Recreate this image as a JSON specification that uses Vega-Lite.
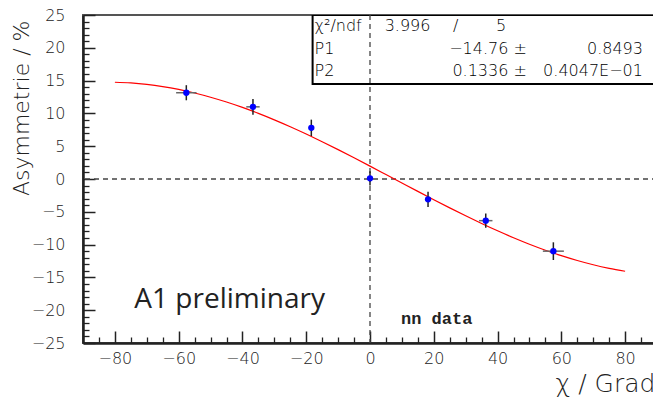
{
  "$schema": "https://vega.github.io/schema/vega-lite/v6.json",
  "autosize": "none",
  "width": 574,
  "height": 328,
  "padding": {"left": 83, "top": 15, "right": 0, "bottom": 58},
  "background": "white",
  "config": {
    "view": {"stroke": "#555", "strokeWidth": 2},
    "font": "DejaVu Sans",
    "axis": {"grid": false}
  },
  "datasets": {
    "points": [
      {"chi": -57.6, "asym": 13.15, "xlo": -60.8, "xhi": -54.4, "ylo": 12.0, "yhi": 14.3},
      {"chi": -36.7, "asym": 11.0, "xlo": -38.8, "xhi": -34.6, "ylo": 9.8, "yhi": 12.2},
      {"chi": -18.4, "asym": 7.8, "xlo": -19.2, "xhi": -17.6, "ylo": 6.55, "yhi": 9.05},
      {"chi": 0.0, "asym": 0.1, "xlo": -0.8, "xhi": 0.8, "ylo": -1.0, "yhi": 1.2},
      {"chi": 18.2, "asym": -3.1, "xlo": 17.4, "xhi": 19.0, "ylo": -4.25, "yhi": -1.95},
      {"chi": 36.3, "asym": -6.35, "xlo": 34.2, "xhi": 38.4, "ylo": -7.45, "yhi": -5.25},
      {"chi": 57.5, "asym": -11.0, "xlo": 54.2, "xhi": 60.8, "ylo": -12.35, "yhi": -9.65}
    ],
    "fit": [
      {"chi": -80, "asym": 14.748}, {"chi": -75, "asym": 14.639}, {"chi": -70, "asym": 14.418},
      {"chi": -65, "asym": 14.088}, {"chi": -60, "asym": 13.652}, {"chi": -55, "asym": 13.110},
      {"chi": -50, "asym": 12.469}, {"chi": -45, "asym": 11.733}, {"chi": -40, "asym": 10.909},
      {"chi": -35, "asym": 10.000}, {"chi": -30, "asym": 9.016}, {"chi": -25, "asym": 7.964},
      {"chi": -20, "asym": 6.849}, {"chi": -15, "asym": 5.684}, {"chi": -10, "asym": 4.475},
      {"chi": -5, "asym": 3.232}, {"chi": 0, "asym": 1.965}, {"chi": 5, "asym": 0.682},
      {"chi": 10, "asym": -0.605}, {"chi": 15, "asym": -1.888}, {"chi": 20, "asym": -3.157},
      {"chi": 25, "asym": -4.401}, {"chi": 30, "asym": -5.613}, {"chi": 35, "asym": -6.780},
      {"chi": 40, "asym": -7.897}, {"chi": 45, "asym": -8.954}, {"chi": 50, "asym": -9.943},
      {"chi": 55, "asym": -10.857}, {"chi": 60, "asym": -11.686}, {"chi": 65, "asym": -12.427},
      {"chi": 70, "asym": -13.075}, {"chi": 75, "asym": -13.623}, {"chi": 80, "asym": -14.065}
    ],
    "box": [{"x1": -18, "x2": 90, "y1": 14.5, "y2": 25}],
    "zero": [{"v": 0}],
    "statsLeft": [
      {"chi": -17.4, "asym": 23.3, "label": "χ²/ndf"},
      {"chi": 4.6, "asym": 23.3, "label": "3.996"},
      {"chi": 26.0, "asym": 23.3, "label": "/"},
      {"chi": 39.5, "asym": 23.3, "label": "5"},
      {"chi": -17.4, "asym": 19.8, "label": "P1"},
      {"chi": -17.4, "asym": 16.5, "label": "P2"}
    ],
    "statsRight": [
      {"chi": 49.2, "asym": 19.8, "label": "−14.76 ±"},
      {"chi": 85.6, "asym": 19.8, "label": "0.8493"},
      {"chi": 49.2, "asym": 16.5, "label": "0.1336 ±"},
      {"chi": 85.6, "asym": 16.5, "label": "0.4047E−01"}
    ],
    "prelim": [{"chi": -73.9, "asym": -18.4, "label": "A1 preliminary"}],
    "nn": [{"chi": 9.7, "asym": -21.3, "label": "nn data"}]
  },
  "resolve": {"axis": {"x": "independent", "y": "independent"}},
  "layer": [
    {
      "data": {"name": "box"},
      "mark": {"type": "rect", "fill": "white", "stroke": "black", "strokeWidth": 2, "clip": true},
      "encoding": {
        "x": {"field": "x1", "type": "quantitative", "scale": {"domain": [-90, 90], "nice": false, "zero": false}, "axis": null},
        "x2": {"field": "x2"},
        "y": {"field": "y1", "type": "quantitative", "scale": {"domain": [-25, 25], "nice": false, "zero": false}, "axis": null},
        "y2": {"field": "y2"}
      }
    },
    {
      "data": {"name": "zero"},
      "mark": {"type": "rule", "color": "#444", "strokeWidth": 1.3, "strokeDash": [5, 4]},
      "encoding": {"y": {"field": "v", "type": "quantitative", "axis": null}}
    },
    {
      "data": {"name": "zero"},
      "mark": {"type": "rule", "color": "#444", "strokeWidth": 1.3, "strokeDash": [5, 4]},
      "encoding": {"x": {"field": "v", "type": "quantitative", "axis": null}}
    },
    {
      "data": {"name": "fit"},
      "mark": {"type": "line", "color": "#ff0000", "strokeWidth": 1.2, "interpolate": "monotone"},
      "encoding": {
        "x": {"field": "chi", "type": "quantitative",
          "axis": {"orient": "bottom", "values": [-90,-85,-75,-70,-65,-55,-50,-45,-35,-30,-25,-15,-10,-5,5,10,15,25,30,35,45,50,55,65,70,75,85,90], "labels": false, "domain": false, "tickSize": -6, "tickColor": "#222", "tickWidth": 1.3, "title": null}},
        "y": {"field": "asym", "type": "quantitative",
          "axis": {"orient": "left", "values": [-24,-23,-22,-21,-19,-18,-17,-16,-14,-13,-12,-11,-9,-8,-7,-6,-4,-3,-2,-1,1,2,3,4,6,7,8,9,11,12,13,14,16,17,18,19,21,22,23,24], "labels": false, "domain": false, "tickSize": -6, "tickColor": "#222", "tickWidth": 1.3, "title": null}}
      }
    },
    {
      "data": {"name": "points"},
      "mark": {"type": "rule", "color": "#666", "strokeWidth": 1.5},
      "encoding": {
        "x": {"field": "xlo", "type": "quantitative", "axis": null},
        "x2": {"field": "xhi"},
        "y": {"field": "asym", "type": "quantitative", "axis": null}
      }
    },
    {
      "data": {"name": "points"},
      "mark": {"type": "rule", "color": "#222", "strokeWidth": 1.5},
      "encoding": {
        "x": {"field": "chi", "type": "quantitative", "axis": null},
        "y": {"field": "ylo", "type": "quantitative", "axis": null},
        "y2": {"field": "yhi"}
      }
    },
    {
      "data": {"name": "points"},
      "mark": {"type": "circle", "color": "#0000ff", "opacity": 1, "size": 40},
      "encoding": {
        "x": {"field": "chi", "type": "quantitative",
          "axis": {"orient": "bottom", "values": [-80,-60,-40,-20,0,20,40,60,80], "tickSize": -12, "tickColor": "#222", "tickWidth": 1.5, "domainColor": "#222", "domainWidth": 2.5, "labelFontSize": 16, "labelColor": "#222", "labelFontWeight": 200, "labelPadding": 19, "title": "χ / Grad", "titleFontSize": 25, "titleFontWeight": 200, "titleColor": "#222", "titleAlign": "left", "titleAnchor": null, "titleX": 472, "titleY": 48, "titleBaseline": "alphabetic"}},
        "y": {"field": "asym", "type": "quantitative",
          "axis": {"orient": "left", "values": [-25,-20,-15,-10,-5,0,5,10,15,20,25], "tickSize": -12, "tickColor": "#222", "tickWidth": 1.5, "domainColor": "#222", "domainWidth": 2.5, "labelFontSize": 16, "labelColor": "#222", "labelFontWeight": 200, "labelPadding": 30, "title": "Asymmetrie / %", "titleFontSize": 22, "titleFontWeight": 200, "titleColor": "#222", "titleAngle": -90, "titleAlign": "right", "titleAnchor": null, "titleX": -55, "titleY": 5, "titleBaseline": "alphabetic"}}
      }
    },
    {
      "data": {"name": "statsLeft"},
      "mark": {"type": "text", "align": "left", "baseline": "middle", "fontSize": 16, "fontWeight": 200, "color": "black"},
      "encoding": {
        "x": {"field": "chi", "type": "quantitative", "axis": null},
        "y": {"field": "asym", "type": "quantitative", "axis": null},
        "text": {"field": "label"}
      }
    },
    {
      "data": {"name": "statsRight"},
      "mark": {"type": "text", "align": "right", "baseline": "middle", "fontSize": 16, "fontWeight": 200, "color": "black"},
      "encoding": {
        "x": {"field": "chi", "type": "quantitative", "axis": null},
        "y": {"field": "asym", "type": "quantitative", "axis": null},
        "text": {"field": "label"}
      }
    },
    {
      "data": {"name": "prelim"},
      "mark": {"type": "text", "align": "left", "baseline": "middle", "fontSize": 28, "font": "Open Sans", "color": "#222"},
      "encoding": {
        "x": {"field": "chi", "type": "quantitative", "axis": null},
        "y": {"field": "asym", "type": "quantitative", "axis": null},
        "text": {"field": "label"}
      }
    },
    {
      "data": {"name": "nn"},
      "mark": {"type": "text", "align": "left", "baseline": "middle", "fontSize": 17, "font": "Liberation Mono", "fontWeight": "bold", "color": "#222"},
      "encoding": {
        "x": {"field": "chi", "type": "quantitative", "axis": null},
        "y": {"field": "asym", "type": "quantitative", "axis": null},
        "text": {"field": "label"}
      }
    }
  ]
}
